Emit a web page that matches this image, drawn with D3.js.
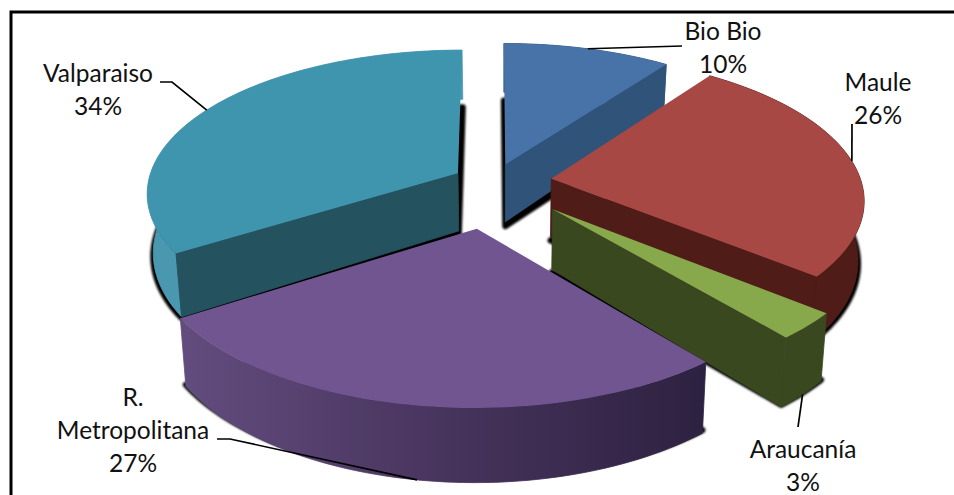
<!DOCTYPE html>
<html>
<head>
<meta charset="utf-8">
<script src="https://cdn.jsdelivr.net/npm/d3@7"></script>
<style>
  html, body { margin: 0; background: #fff; }
  svg { display: block; }
  text { font-family: Lato, "Open Sans", sans-serif; font-size: 24.5px; fill: #111; }
</style>
</head>
<body>
<div id="chart"></div>
<script>
// regions and their share, clockwise from 12 o'clock
var names = ["Bio Bio", "Maule", "Araucanía", "R. Metropolitana", "Valparaiso"];
var values = [10, 26, 3, 27, 34];
var labelLines = [["Bio Bio"], ["Maule"], ["Araucanía"], ["R.", "Metropolitana"], ["Valparaiso"]];

// how far each slice is pulled out, as a fraction of the radius
var explode = [0.13, 0.19, 0.265, 0.32, 0.13];

var topColors = ["#4773a8", "#a84844", "#88a84c", "#705590", "#4095ae"];
var wallColors = ["#305479", "#4f1c18", "#3a481f", "#3a2b50", "#24535f"];
var rimColors = ["#305479", "#4f1c18", "#3a481f", "url(#rimMetro)", "#4a98b0"];

// label placement: centre x, first baseline y, elbow and side of the leader line
var labelX = [723, 878, 803, 133, 98];
var labelY = [40, 91, 458, 406, 82];
var leaderEnd = [[682, 46], [852, 124], [798, 427], [217, 439], [160, 82]];
var leaderElbow = [null, null, null, [230, 439], [172, 82]];
var leaderOnBase = [false, false, true, true, false];

var width = 954, height = 495;

// camera settings for the tilted disc
var cx = 493, cy = 182,
    radiusX = 310, radiusY = 141.7,
    perspective = 0.133,
    depth = 58.3,
    vanishX = 505,
    baseShrink = 0.017;

var svg = d3.select("#chart").append("svg")
    .attr("width", width)
    .attr("height", height);

var defs = svg.append("defs");
defs.append("filter").attr("id", "soft")
    .attr("x", "-10%").attr("y", "-10%").attr("width", "120%").attr("height", "120%")
  .append("feGaussianBlur").attr("stdDeviation", 1.2);

var grad = defs.append("linearGradient")
    .attr("id", "rimMetro")
    .attr("gradientUnits", "userSpaceOnUse")
    .attr("x1", 185).attr("y1", 0)
    .attr("x2", 707).attr("y2", 0);
grad.append("stop").attr("offset", 0).attr("stop-color", "#624c7e");
grad.append("stop").attr("offset", 0.45).attr("stop-color", "#4a3660");
grad.append("stop").attr("offset", 1).attr("stop-color", "#2d2140");

// frame, open on the right and at the bottom
svg.append("path")
    .attr("d", d3.line()([[11, height], [11, 12], [width, 12]]))
    .attr("fill", "none")
    .attr("stroke", "#000")
    .attr("stroke-width", 3);

var pie = d3.pie().sort(null)(values);

var slices = pie.map(function(d, i) {
  var mid = (d.startAngle + d.endAngle) / 2;
  return {
    index: i,
    start: d.startAngle,
    end: d.endAngle,
    mid: mid,
    ox: explode[i] * Math.sin(mid),
    oz: -explode[i] * Math.cos(mid)
  };
});

// point of a slice on the disc, r = 0 is the apex; base = true for the underside
function project(s, angle, r, base, shadow) {
  var X = s.ox + r * Math.sin(angle),
      Z = s.oz - r * Math.cos(angle),
      k = 1 / (1 - perspective * Z),
      x = cx + radiusX * X * k,
      y = cy + radiusY * Z * k;
  if (base) {
    x = vanishX + (x - vanishX) * (1 - baseShrink);
    // the shadow sits flatter, so it slips behind the rim at the very front
    y += shadow ? 62 * Math.pow(k, 0.6) : depth * Math.pow(k, 1.28);
  }
  return [x, y];
}

function arcAngles(s) {
  var n = Math.max(8, Math.ceil((s.end - s.start) * 40));
  return d3.range(n + 1).map(function(j) {
    return s.start + (s.end - s.start) * j / n;
  });
}

function facePoints(s, base, shadow) {
  var pts = arcAngles(s).map(function(a) { return project(s, a, 1, base, shadow); });
  pts.unshift(project(s, 0, 0, base, shadow));
  return pts;
}

function rimPoints(s) {
  var angles = arcAngles(s);
  var upper = angles.map(function(a) { return project(s, a, 1, false); });
  var lower = angles.slice().reverse().map(function(a) { return project(s, a, 1, true); });
  return upper.concat(lower);
}

function wallPoints(s, angle) {
  return [
    project(s, angle, 0, false),
    project(s, angle, 1, false),
    project(s, angle, 1, true),
    project(s, angle, 0, true)
  ];
}

var closedPath = d3.line().curve(d3.curveLinearClosed);

// dark halo under the base of every slice
svg.append("g")
    .attr("filter", "url(#soft)")
  .selectAll("path")
    .data(slices)
  .enter().append("path")
    .attr("d", function(s) { return closedPath(facePoints(s, true, true)); })
    .attr("fill", "#000")
    .attr("stroke", "#000")
    .attr("stroke-width", 6)
    .attr("stroke-linejoin", "round");

// painter's order: back slices first
var order = [0, 4, 1, 2, 3];

order.forEach(function(i) {
  var s = slices[i];
  var g = svg.append("g");

  g.append("path")
    .attr("d", closedPath(rimPoints(s)))
    .attr("fill", rimColors[i])
    .attr("stroke", rimColors[i])
    .attr("stroke-width", 0.8);

  // only the radial walls that turn towards the viewer
  if (-Math.sin(s.start) > 0.01) {
    g.append("path")
      .attr("d", closedPath(wallPoints(s, s.start)))
      .attr("fill", wallColors[i])
      .attr("stroke", wallColors[i])
      .attr("stroke-width", 0.8);
  }
  if (Math.sin(s.end) > 0.01) {
    g.append("path")
      .attr("d", closedPath(wallPoints(s, s.end)))
      .attr("fill", wallColors[i])
      .attr("stroke", wallColors[i])
      .attr("stroke-width", 0.8);
  }

  g.append("path")
    .attr("d", closedPath(facePoints(s, false)))
    .attr("fill", topColors[i]);
});

// leader lines, from the label to the rim at the middle of the slice
slices.forEach(function(s, i) {
  var pts = [leaderEnd[i]];
  if (leaderElbow[i]) pts.push(leaderElbow[i]);
  pts.push(project(s, s.mid, 1, leaderOnBase[i]));
  svg.append("path")
    .attr("d", d3.line()(pts))
    .attr("fill", "none")
    .attr("stroke", "#000")
    .attr("stroke-width", 1.7);
});

// region name and percentage
names.forEach(function(name, i) {
  var lines = labelLines[i].concat([values[i] + "%"]);
  svg.append("g").selectAll("text")
      .data(lines)
    .enter().append("text")
      .attr("x", labelX[i])
      .attr("y", function(d, j) { return labelY[i] + j * 32.8; })
      .attr("text-anchor", "middle")
      .text(function(d) { return d; });
});
</script>
</body>
</html>
